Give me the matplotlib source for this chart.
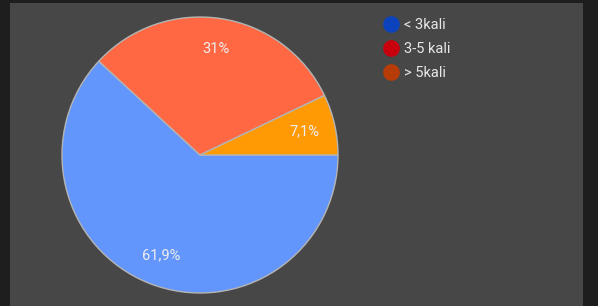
import matplotlib
matplotlib.use("Agg")
import matplotlib.pyplot as plt
from matplotlib.lines import Line2D
from matplotlib.patches import Rectangle

plt.rcParams['font.family'] = ['Roboto', 'DejaVu Sans']

# Data
kategori = ["< 3kali", "3-5 kali", "> 5kali"]
persen = [61.9, 31.0, 7.1]
warna_pie = ["#6396fc", "#ff6842", "#ff9a05"]
warna_legend = ["#0c43bd", "#c8000e", "#b83c08"]

W, H = 598, 306
fig = plt.figure(figsize=(W / 100, H / 100), dpi=100)
fig.patch.set_facecolor("#1e1e1e")
fig.patches.append(Rectangle((10 / W, 0), (583 - 10) / W, (H - 3) / H,
                             transform=fig.transFigure, facecolor="#474747",
                             edgecolor="none", zorder=-10))

# pie axes: center (200,155), radius 138 px
cx, cy, r = 200, 155, 138
ax = fig.add_axes([(cx - r) / W, (H - cy - r) / H, 2 * r / W, 2 * r / H])
ax.set_facecolor("none")


def fmt(p):
    return f"{round(p, 1):g}".replace(".", ",") + "%"


wedges, texts, autotexts = ax.pie(
    persen, colors=warna_pie, startangle=0, counterclock=False,
    autopct=fmt, pctdistance=0.78, radius=1,
    wedgeprops=dict(edgecolor="#b4b4b4", linewidth=1.0),
    textprops=dict(color="#eeeeee", fontsize=10.5))
ax.set_xlim(-1, 1)
ax.set_ylim(-1, 1)
ax.set_aspect("equal")
ax.axis("off")

handles = [Line2D([], [], marker="o", linestyle="none", markersize=11,
                  markerfacecolor=c, markeredgecolor=c) for c in warna_legend]
leg = fig.legend(handles, kategori, loc="upper left",
                 bbox_to_anchor=(375 / W, 1 - 11 / H), frameon=False,
                 fontsize=10.5, labelcolor="#e6e6e6", handletextpad=0.3,
                 labelspacing=0.68, handlelength=1.2, borderpad=0)

fig.savefig("out.png", dpi=100, facecolor=fig.get_facecolor())
